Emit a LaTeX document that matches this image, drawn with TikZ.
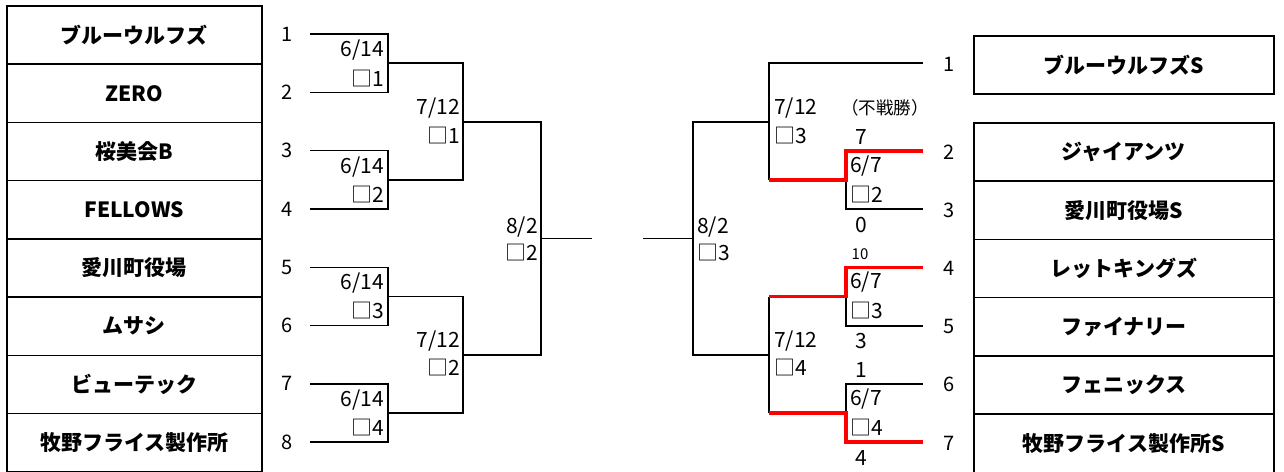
\documentclass[tikz,border=0pt]{standalone}
\usepackage{fontspec}
\setmainfont{Noto Sans CJK JP}
\begin{document}
\begin{tikzpicture}[x=1pt,y=-1pt,
  team/.style={draw, line width=1.7pt, minimum width=255pt, minimum height=58.25pt, inner sep=0pt, anchor=north west, font=\bfseries\fontsize{21}{21}\selectfont},
  teamr/.style={team, minimum width=300pt},
  seed/.style={font=\fontsize{20}{20}\selectfont, inner sep=0pt},
  lab/.style={font=\fontsize{21}{21}\selectfont, inner sep=0pt},
  small/.style={font=\fontsize{15}{15}\selectfont, inner sep=0pt},
  br/.style={line width=1.8pt, black},
  win/.style={line width=3.4pt, red}]
\useasboundingbox (0,0) rectangle (1284,471);
% left team boxes
\node[team] (L1) at (6,5) {ブルーウルフズ};
\node[team] (L2) at (6,63.25) {ZERO};
\node[team] (L3) at (6,121.5) {桜美会B};
\node[team] (L4) at (6,179.75) {FELLOWS};
\node[team] (L5) at (6,238) {愛川町役場};
\node[team] (L6) at (6,296.25) {ムサシ};
\node[team] (L7) at (6,354.5) {ビューテック};
\node[team] (L8) at (6,412.75) {牧野フライス製作所};
% right team boxes
\node[teamr] (T1) at (973,35) {ブルーウルフズS};
\node[teamr] (T2) at (973,122) {ジャイアンツ};
\node[teamr] (T3) at (973,180.25) {愛川町役場S};
\node[teamr] (T4) at (973,238.5) {レットキングズ};
\node[teamr] (T5) at (973,296.75) {ファイナリー};
\node[teamr] (T6) at (973,355) {フェニックス};
\node[teamr] (T7) at (973,413.25) {牧野フライス製作所S};
% left seed numbers
\node[seed] (n1) at (287,34) {1};
\node[seed] (n2) at (287,92.5) {2};
\node[seed] (n3) at (287,150.5) {3};
\node[seed] (n4) at (287,209) {4};
\node[seed] (n5) at (287,267) {5};
\node[seed] (n6) at (287,325.5) {6};
\node[seed] (n7) at (287,383.5) {7};
\node[seed] (n8) at (287,442) {8};
% right seed numbers
\node[seed] (m1) at (949,64) {1};
\node[seed] (m2) at (949,152) {2};
\node[seed] (m3) at (949,210) {3};
\node[seed] (m4) at (949,268) {4};
\node[seed] (m5) at (949,326) {5};
\node[seed] (m6) at (949,384) {6};
\node[seed] (m7) at (949,443) {7};
% left bracket coordinates
\coordinate (a1) at (310,34);
\coordinate (a2) at (310,92.5);
\coordinate (a3) at (310,150.5);
\coordinate (a4) at (310,209);
\coordinate (a5) at (310,267.5);
\coordinate (a6) at (310,325.5);
\coordinate (a7) at (310,384);
\coordinate (a8) at (310,442);
\coordinate (q1) at (388,63);
\coordinate (q2) at (388,180);
\coordinate (q3) at (388,296.5);
\coordinate (q4) at (388,413);
\coordinate (r1) at (463,122);
\coordinate (r2) at (463,355);
\coordinate (f1) at (541,238.5);
\coordinate (fl) at (592,238.5);
\draw[br] (a1) -| (q1) |- (a2);
\draw[br] (a3) -| (q2) |- (a4);
\draw[br] (a5) -| (q3) |- (a6);
\draw[br] (a7) -| (q4) |- (a8);
\draw[br] (q1) -| (r1) |- (q2);
\draw[br] (q3) -| (r2) |- (q4);
\draw[br] (r1) -| (f1) |- (r2);
\draw[br] (f1) -- (fl);
% right bracket coordinates
\coordinate (fr) at (643,238.5);
\coordinate (F2) at (693,238.5);
\coordinate (R3) at (769,122);
\coordinate (R4) at (769,355);
\coordinate (b1) at (923,63);
\coordinate (R3b) at (769,180);
\coordinate (Q2) at (846,180);
\coordinate (t2) at (923,151);
\coordinate (t3) at (923,209);
\coordinate (R4a) at (769,296.5);
\coordinate (R4b) at (769,413);
\coordinate (Q3) at (846,296.5);
\coordinate (Q4) at (846,413);
\coordinate (t4) at (923,267.5);
\coordinate (t5) at (923,326);
\coordinate (t6) at (923,384);
\coordinate (t7) at (923,442);
\draw[br] (fr) -- (F2);
\draw[br] (R3) -| (F2) |- (R4);
\draw[br] (b1) -| (R3b);
\draw[br] (Q2) |- (t3);
\draw[win] (R3b) -- (Q2) |- (t2);
\draw[br] (R4a) -- (R4b);
\draw[br] (Q3) |- (t5);
\draw[br] (Q4) |- (t6);
\draw[win] (R4a) -- (Q3) |- (t4);
\draw[win] (R4b) -- (Q4) |- (t7);
% left labels
\node[lab, anchor=east] (d1) at (384,50) {6/14};
\node[lab, anchor=east] (g1) at (384,79) {□1};
\node[lab, anchor=east] (d2) at (384,167) {6/14};
\node[lab, anchor=east] (g2) at (384,195) {□2};
\node[lab, anchor=east] (d3) at (384,283) {6/14};
\node[lab, anchor=east] (g3) at (384,311) {□3};
\node[lab, anchor=east] (d4) at (384,400) {6/14};
\node[lab, anchor=east] (g4) at (384,428) {□4};
\node[lab, anchor=east] (e1) at (460,108) {7/12};
\node[lab, anchor=east] (h1) at (460,136) {□1};
\node[lab, anchor=east] (e2) at (460,341) {7/12};
\node[lab, anchor=east] (h2) at (460,368) {□2};
\node[lab, anchor=east] (k1) at (538,227) {8/2};
\node[lab, anchor=east] (k2) at (538,253) {□2};
% right labels
\node[lab, anchor=west] (K1) at (697,227) {8/2};
\node[lab, anchor=west] (K2) at (697,253) {□3};
\node[lab, anchor=west] (E1) at (774,108) {7/12};
\node[lab, anchor=west] (H1) at (774,136) {□3};
\node[lab, anchor=west] (E2) at (774,341) {7/12};
\node[lab, anchor=west] (H2) at (774,368) {□4};
\node[lab, font=\fontsize{17.5}{18}\selectfont] (fs) at (885,108) {（不戦勝）};
\node[lab] (s7) at (861,137) {7};
\node[lab, anchor=west] (D2) at (850,166) {6/7};
\node[lab, anchor=west] (G2) at (850,195) {□2};
\node[lab] (s0) at (861,225) {0};
\node[small] (s10) at (860,254) {10};
\node[lab, anchor=west] (D3) at (850,282) {6/7};
\node[lab, anchor=west] (G3) at (850,311) {□3};
\node[lab] (s3) at (861,341) {3};
\node[lab] (s1) at (861,370) {1};
\node[lab, anchor=west] (D4) at (850,399) {6/7};
\node[lab, anchor=west] (G4) at (850,428) {□4};
\node[lab] (s4) at (861,458) {4};
\end{tikzpicture}
\end{document}
